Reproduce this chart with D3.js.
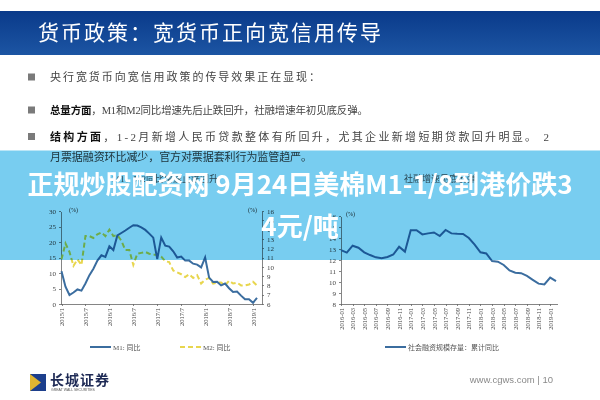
<!DOCTYPE html>
<meta charset="utf-8">
<style>
body { margin: 0; background: #fff; }
svg { display: block; font-family: "Liberation Serif", "Noto Sans CJK SC", serif; }
.axis path, .axis line { fill: none; stroke: #666; stroke-width: .8px; shape-rendering: crispEdges; }
.axis text { font-size: 7px; fill: #444; font-family: "Liberation Serif", serif; }
.bul { font-size: 11px; fill: #444; font-family: "Liberation Serif", "Noto Sans CJK SC", serif; }
</style>
<body>
<script src="https://cdn.jsdelivr.net/npm/d3@7"></script>
<script>
// M1 / M2 yoy, monthly 2015/1 - 2019/2
var m1 = [10.6, 5.6, 2.9, 3.7, 4.7, 4.3, 6.6, 9.3, 11.4, 14.0, 15.7, 15.2,
          18.6, 17.4, 22.1, 22.9, 23.7, 24.6, 25.4, 25.3, 24.7, 23.9, 22.7, 21.4,
          14.5, 21.4, 18.8, 18.5, 17.0, 15.0, 15.3, 14.0, 14.0, 13.0, 12.7, 11.8,
          15.0, 8.5, 7.1, 7.2, 6.0, 6.6, 5.1, 3.9, 4.0, 2.7, 1.5, 1.5,
          0.4, 2.0];
var m2 = [10.8, 12.5, 11.6, 10.1, 10.8, 10.2, 13.3, 13.3, 13.1, 13.5, 13.7, 13.3,
          14.0, 13.3, 13.4, 12.8, 11.8, 11.8, 10.2, 11.4, 11.5, 11.6, 11.4, 11.3,
          11.3, 11.1, 10.6, 10.5, 9.6, 9.4, 9.2, 8.9, 9.2, 8.8, 9.1, 8.2,
          8.6, 8.8, 8.2, 8.3, 8.3, 8.0, 8.5, 8.2, 8.3, 8.0, 8.0, 8.1,
          8.4, 8.0];
var monthTicksA = ["2015/1", "2015/7", "2016/1", "2016/7", "2017/1", "2017/7", "2018/1", "2018/7", "2019/1"];
var leftTicks = [0, 5, 10, 15, 20, 25, 30];
var rightTicks = [6, 7, 8, 9, 10, 11, 12, 13, 14, 15, 16];

// 社融存量同比, monthly 2016-01 - 2019-02
var tsf = [12.9, 12.67, 13.3, 13.12, 12.7, 12.45, 12.24, 12.15, 12.27, 12.5, 13.2, 12.76,
           14.7, 14.7, 14.33, 14.42, 14.5, 14.18, 14.73, 14.42, 14.38, 14.36, 14.0, 13.4,
           12.7, 12.6, 11.9, 11.85, 11.55, 11.05, 10.85, 10.8, 10.55, 10.2, 9.85, 9.78,
           10.4, 10.08];
var monthTicksB = ["2016-01", "2016-03", "2016-05", "2016-07", "2016-09", "2016-11",
                   "2017-01", "2017-03", "2017-05", "2017-07", "2017-09", "2017-11",
                   "2018-01", "2018-03", "2018-05", "2018-07", "2018-09", "2018-11", "2019-01"];
var tsfTicks = [8, 9, 10, 11, 12, 13, 14, 15, 16];

var svg = d3.select("body").append("svg")
    .attr("width", 600)
    .attr("height", 400);

// title band
var grad = svg.append("defs").append("linearGradient")
    .attr("id", "band").attr("x1", 0).attr("y1", 0).attr("x2", 0).attr("y2", 1);
grad.append("stop").attr("offset", "0%").attr("stop-color", "#0a3a8a");
grad.append("stop").attr("offset", "100%").attr("stop-color", "#1c55a3");
svg.append("rect").attr("x", 0).attr("y", 11).attr("width", 600).attr("height", 44).attr("fill", "url(#band)");
svg.append("text")
    .attr("x", 38).attr("y", 40)
    .attr("fill", "#fff")
    .style("font-family", "'Noto Sans CJK SC', sans-serif")
    .style("font-size", "21px")
    .style("letter-spacing", "2px")
    .text("货币政策：宽货币正向宽信用传导");

// bullets
var bullets = [
  {y: 77, len: 270, fs: 11, bold: "", rest: "央行宽货币向宽信用政策的传导效果正在显现："},
  {y: 110, len: 318, fs: 10.5, bold: "总量方面", rest: "，M1和M2同比增速先后止跌回升，社融增速年初见底反弹。"},
  {y: 136.5, len: 499, fs: 11, bold: "结构方面", rest: "，1-2月新增人民币贷款整体有所回升，尤其企业新增短期贷款回升明显。 2"}
];
bullets.forEach(function(b) {
  svg.append("rect").attr("x", 28).attr("y", b.y - 3.5).attr("width", 7).attr("height", 7).attr("fill", "#7a7a7a");
  var t = svg.append("text").attr("class", "bul").attr("x", 50).attr("y", b.y + 4)
      .style("font-size", b.fs + "px")
      .attr("textLength", b.len).attr("lengthAdjust", "spacing");
  if (b.bold) t.append("tspan").style("font-weight", "bold").attr("fill", "#111").text(b.bold);
  t.append("tspan").text(b.rest);
});
svg.append("text").attr("class", "bul").attr("x", 50).attr("y", 160.5)
    .attr("textLength", 262).attr("lengthAdjust", "spacing")
    .text("月票据融资环比减少，官方对票据套利行为监管趋严。");

// chart titles (mostly under banner)
svg.append("text").attr("x", 165).attr("y", 182).attr("text-anchor", "middle")
    .style("font-size", "9px").attr("fill", "#555").text("M1、M2同比增速止跌回升");
svg.append("text").attr("x", 440).attr("y", 182).attr("text-anchor", "middle")
    .style("font-size", "9px").attr("fill", "#555").text("社融增速见底反弹");

// ---- left chart
var xA = d3.scaleLinear().domain([0, 48]).range([61.5, 253]);
var yL = d3.scaleLinear().domain([0, 30]).range([304, 211]);
var yR = d3.scaleLinear().domain([6, 16]).range([304, 211]);

svg.append("g").attr("class", "axis").attr("transform", "translate(61,0)")
    .call(d3.axisLeft(yL).tickValues(leftTicks).tickSize(2).tickSizeOuter(0));
svg.append("g").attr("class", "axis").attr("transform", "translate(262,0)")
    .call(d3.axisRight(yR).tickValues(rightTicks).tickSize(2).tickSizeOuter(0));
svg.append("line").attr("x1", 61).attr("x2", 262).attr("y1", 304.5).attr("y2", 304.5)
    .attr("stroke", "#666").attr("stroke-width", 0.8);
var gxA = svg.append("g").attr("class", "axis").attr("transform", "translate(0,304)")
    .call(d3.axisBottom(xA).tickValues(d3.range(0, 49, 6)).tickSize(2)
          .tickFormat(function(d) { return monthTicksA[d / 6]; }));
gxA.select(".domain").remove();
gxA.selectAll("text").attr("text-anchor", "end").attr("transform", "translate(0,4) rotate(-90)")
    .attr("x", 0).attr("y", 0).attr("dy", "0.32em").style("font-size", "6.5px");

svg.append("text").attr("x", 69).attr("y", 212).style("font-size", "6px").attr("fill", "#333").text("(%)");
svg.append("text").attr("x", 248).attr("y", 212).style("font-size", "6px").attr("fill", "#333").text("(%)");

svg.append("path").datum(m2)
    .attr("fill", "none").attr("stroke", "#e8d64e").attr("stroke-width", 2)
    .attr("stroke-dasharray", "5,3")
    .attr("d", d3.line().x(function(d, i) { return xA(i); }).y(function(d) { return yR(d); }));
svg.append("path").datum(m1)
    .attr("fill", "none").attr("stroke", "#3b6d9f").attr("stroke-width", 2)
    .attr("d", d3.line().x(function(d, i) { return xA(i); }).y(function(d) { return yL(d); }));

// ---- right chart
var xB = d3.scaleLinear().domain([0, 37]).range([341, 556]);
var yB = d3.scaleLinear().domain([8, 16]).range([304, 216]);

svg.append("g").attr("class", "axis").attr("transform", "translate(341,0)")
    .call(d3.axisLeft(yB).tickValues(tsfTicks).tickSize(2).tickSizeOuter(0));
svg.append("line").attr("x1", 341).attr("x2", 558).attr("y1", 304.5).attr("y2", 304.5)
    .attr("stroke", "#666").attr("stroke-width", 0.8);
var gxB = svg.append("g").attr("class", "axis").attr("transform", "translate(0,304)")
    .call(d3.axisBottom(xB).tickValues(d3.range(0, 37, 2)).tickSize(2)
          .tickFormat(function(d) { return monthTicksB[d / 2]; }));
gxB.select(".domain").remove();
gxB.selectAll("text").attr("text-anchor", "end").attr("transform", "translate(0,4) rotate(-90)")
    .attr("x", 0).attr("y", 0).attr("dy", "0.32em").style("font-size", "6.5px");
svg.append("text").attr("x", 346).attr("y", 216).style("font-size", "6px").attr("fill", "#333").text("(%)");

svg.append("path").datum(tsf)
    .attr("fill", "none").attr("stroke", "#3b6d9f").attr("stroke-width", 2)
    .attr("d", d3.line().x(function(d, i) { return xB(i); }).y(function(d) { return yB(d); }));

// legends
var lg = [
  {x: 90, dash: null, color: "#3b6d9f", label: "M1: 同比"},
  {x: 180, dash: "5,3", color: "#e8d64e", label: "M2: 同比"},
  {x: 385, dash: null, color: "#3b6d9f", label: "社会融资规模存量：累计同比"}
];
lg.forEach(function(l) {
  svg.append("line").attr("x1", l.x).attr("x2", l.x + 21).attr("y1", 347).attr("y2", 347)
      .attr("stroke", l.color).attr("stroke-width", 2).attr("stroke-dasharray", l.dash);
  svg.append("text").attr("x", l.x + 23).attr("y", 349.5).style("font-size", "7px").attr("fill", "#555").text(l.label);
});

// banner overlay
svg.append("rect").attr("x", 0).attr("y", 150.5).attr("width", 600).attr("height", 109.5)
    .attr("fill", "#78cdf0").style("mix-blend-mode", "multiply");
var bt = svg.append("g").attr("fill", "#fff")
    .style("font-family", "'Noto Sans CJK SC', sans-serif")
    .style("font-weight", "bold").style("font-size", "26px").attr("text-anchor", "middle");
bt.append("text").attr("x", 300).attr("y", 194).text("正规炒股配资网 9月24日美棉M1-1/8到港价跌3");
bt.append("text").attr("x", 300).attr("y", 236).text("4元/吨");

// footer
svg.append("rect").attr("x", 30).attr("y", 374).attr("width", 16).attr("height", 17).attr("fill", "#1d3f8c");
svg.append("polygon").attr("points", "30,374 41,382.5 30,391").attr("fill", "#e0b530");
svg.append("text").attr("x", 50).attr("y", 385).style("font-family", "'Noto Sans CJK SC', sans-serif")
    .style("font-size", "14px").style("font-weight", "bold").attr("fill", "#1e2a55")
    .style("letter-spacing", "1px").text("长城证券");
svg.append("text").attr("x", 51).attr("y", 390.5).style("font-family", "'Liberation Sans', sans-serif")
    .style("font-size", "3.5px").attr("fill", "#555").text("GREAT WALL SECURITIES");
svg.append("text").attr("x", 553).attr("y", 383).attr("text-anchor", "end")
    .style("font-family", "'Liberation Sans', sans-serif").style("font-size", "9.5px").attr("fill", "#8a8a8a")
    .text("www.cgws.com  |  10");
</script>
